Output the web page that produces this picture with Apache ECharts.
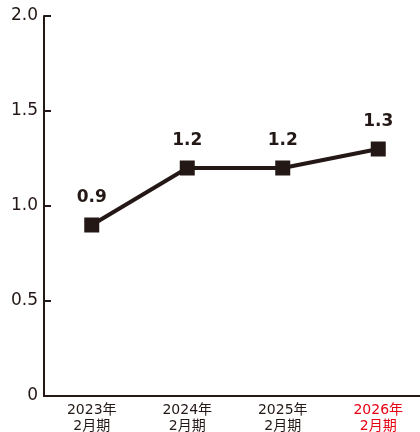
<!DOCTYPE html>
<html>
<head>
<meta charset="utf-8">
<script src="https://cdn.jsdelivr.net/npm/echarts@6/dist/echarts.min.js"></script>
<style>
  html, body { margin: 0; padding: 0; background: #fff; }
  #chart { width: 420px; height: 432px; }
</style>
</head>
<body>
<div id="chart"></div>
<script>
// Fiscal periods (year ending February)
const categories = ['2023年\n2月期', '2024年\n2月期', '2025年\n2月期', '2026年\n2月期'];
const values = [0.9, 1.2, 1.2, 1.3];
const yTicks = [0, 0.5, 1.0, 1.5, 2.0];
const highlightIndex = 3; // forecast period drawn in red

const ink = '#231815';
const red = '#e60012';
const numFont = '"DejaVu Sans", "Liberation Sans", sans-serif';
const catFont = '"DejaVu Sans", "Noto Sans CJK JP", sans-serif';

const chart = echarts.init(document.getElementById('chart'));
chart.setOption({
  animation: false,
  // the last band runs past the right edge of the canvas
  grid: { left: 44, top: 16, width: 382, bottom: 36, outerBoundsMode: 'none', containLabel: false },
  xAxis: {
    type: 'category',
    data: categories,
    boundaryGap: true,
    axisLine: { lineStyle: { color: ink, width: 2 } },
    axisTick: { inside: true, length: 6, alignWithLabel: false, lineStyle: { color: ink, width: 2 } },
    axisLabel: {
      fontFamily: catFont,
      fontSize: 14,
      lineHeight: 16,
      margin: 6,
      color: (v, i) => (i === highlightIndex ? red : ink)
    },
    splitLine: { show: false }
  },
  yAxis: {
    type: 'value',
    min: yTicks[0],
    max: yTicks[yTicks.length - 1],
    interval: 0.5,
    axisLine: { show: true, lineStyle: { color: ink, width: 2 } },
    axisTick: { show: true, inside: true, length: 7, lineStyle: { color: ink, width: 2 } },
    axisLabel: {
      fontFamily: numFont,
      fontSize: 17,
      color: ink,
      margin: 6,
      formatter: v => (v === 0 ? '0' : v.toFixed(1))
    },
    splitLine: { show: false }
  },
  series: [{
    type: 'line',
    data: values,
    symbol: 'rect',
    symbolSize: 15,
    itemStyle: { color: ink },
    lineStyle: { color: ink, width: 4 },
    label: {
      show: true,
      position: 'top',
      distance: 11,
      fontFamily: numFont,
      fontSize: 17,
      fontWeight: 'bold',
      color: ink,
      formatter: p => p.value.toFixed(1)
    }
  }]
});
</script>
</body>
</html>
